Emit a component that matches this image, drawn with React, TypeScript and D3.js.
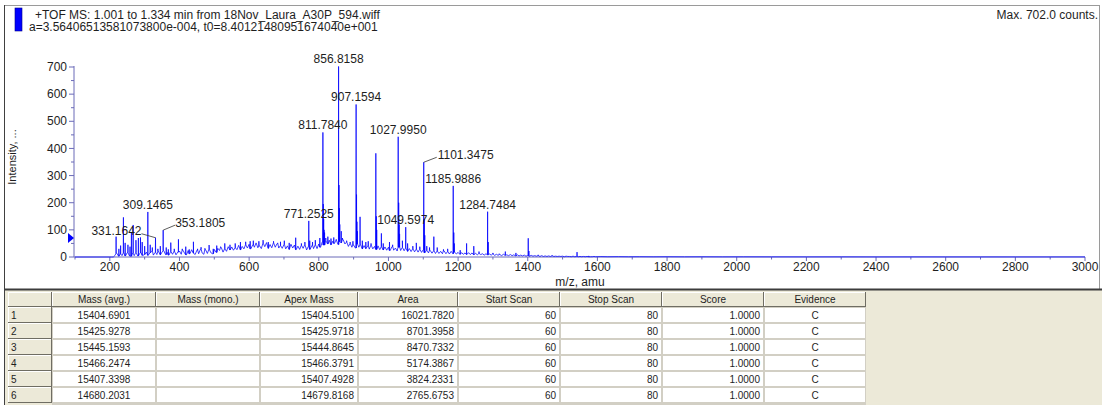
import React from "react";
import * as d3 from "d3";

// ---------- header texts ----------
const headerLine1 = "+TOF MS: 1.001 to 1.334 min from 18Nov_Laura_A30P_594.wiff";
const headerLine2 = "a=3.56406513581073800e-004, t0=8.40121480951674040e+001";
const maxCountsText = "Max. 702.0 counts.";
const xAxisTitle = "m/z, amu";
const yAxisTitle = "Intensity, ...";

// ---------- axes ----------
const xDomain = [100, 3000];
const yDomain = [0, 702];
const xMajorTicks = [200, 400, 600, 800, 1000, 1200, 1400, 1600, 1800, 2000, 2200, 2400, 2600, 2800, 3000];
const xMinorTicks = [100, 300, 500, 700, 900, 1100, 1300, 1500, 1700, 1900, 2100, 2300, 2500, 2700, 2900];
const yMajorTicks = [0, 100, 200, 300, 400, 500, 600, 700];
const yMinorTicks = [50, 150, 250, 350, 450, 550, 650];

// ---------- spectrum: profile trace sampled every 5 amu from 200 ----------
const profileStart = 200;
const profileStep = 5;
const profileIntensity = [
  // 200 - 295
  0, 0, 0, 6, 14, 3, 11, 5, 15, 4, 16, 7, 3, 13, 5, 17, 4, 12, 15, 6,
  // 300 - 395
  9, 18, 6, 15, 21, 7, 17, 9, 20, 8, 18, 23, 9, 17, 7, 20, 10, 22, 8, 18,
  // 400 - 495
  22, 10, 25, 13, 8, 24, 12, 27, 14, 9, 25, 12, 28, 15, 10, 27, 13, 29, 16, 12,
  // 500 - 595
  28, 17, 32, 24, 35, 18, 30, 21, 38, 26, 37, 25, 34, 27, 43, 26, 39, 30, 45, 33,
  // 600 - 695
  47, 30, 44, 36, 52, 34, 41, 31, 51, 38, 53, 32, 46, 34, 52, 36, 49, 33, 42, 32,
  // 700 - 795
  46, 30, 41, 28, 47, 33, 44, 27, 40, 28, 43, 32, 45, 26, 39, 28, 42, 31, 45, 31,
  // 800 - 895
  48, 36, 56, 44, 60, 48, 62, 45, 58, 50, 63, 46, 57, 52, 64, 48, 55, 39, 50, 36,
  // 900 - 995
  44, 33, 48, 36, 45, 30, 42, 31, 40, 29, 44, 30, 39, 28, 41, 27, 38, 26, 37, 25,
  // 1000 - 1095
  36, 24, 38, 25, 33, 22, 36, 24, 35, 23, 33, 21, 31, 20, 30, 19, 29, 18, 28, 17,
  // 1100 - 1195
  27, 16, 25, 15, 24, 14, 23, 13, 22, 13, 21, 12, 22, 12, 20, 11, 21, 12, 18, 11,
  // 1200 - 1295
  17, 10, 16, 10, 15, 9, 16, 9, 15, 8, 14, 8, 13, 9, 12, 7, 12, 8, 11, 7,
  // 1300 - 1395
  11, 6, 10, 6, 9, 5, 10, 6, 8, 5, 9, 5, 8, 4, 8, 4, 7, 4, 7, 3,
  // 1400 - 1495
  6, 3, 6, 3, 5, 3, 5, 2, 5, 2, 4, 2, 4, 2, 4, 2, 3, 2, 3, 2,
  // 1500 - 1595
  3, 1, 3, 2, 2, 1, 3, 1, 2, 1, 2, 1, 2, 1, 2, 1, 1, 1, 2, 1,
];
const tailMz = [1610, 1630, 1660, 1690, 1720, 1760, 1800, 1850, 1900, 1960, 2020, 2100, 2200, 2300, 2400, 2500, 2600, 2700, 2800, 2900, 3000];
const tailIntensity = [1.5, 1, 1.3, 0.9, 1.1, 0.8, 1, 0.7, 0.9, 0.6, 0.8, 0.6, 0.5, 0.6, 0.4, 0.5, 0.4, 0.4, 0.3, 0.3, 0.3];

// centroided peaks (m/z, counts)
const peakMz = [
  218, 226, 231, 239, 244, 252, 258, 262, 267, 275, 282, 288, 293, 300, 309.1465, 316, 322, 331.1642, 338, 345,
  353.1805, 362, 368, 375, 385, 397, 408, 418, 428, 440, 452, 462, 473, 485, 497, 507, 518, 530, 545, 560,
  575, 590, 603, 612, 628, 640, 655, 670, 682, 690, 701, 715, 733.7, 750, 760, 771.2525, 774, 782, 790, 803,
  811.784, 812.9, 814.0, 815.1, 816.6, 820, 826, 835, 843, 850, 856.8158, 858.0, 859.1, 860.3, 864.5, 868, 880, 890, 898,
  907.1594, 908.4, 909.5, 910.8, 918.5, 925, 935, 942, 950, 963.78, 965.1, 966.3, 979.7, 985, 1003, 1012,
  1027.995, 1029.4, 1030.8, 1032, 1040, 1049.5974, 1055, 1070, 1080, 1090, 1101.3475, 1102.85, 1104.3, 1110, 1118,
  1130.3, 1140, 1158, 1170, 1185.9886, 1187.6, 1189, 1206, 1224.4, 1245, 1260, 1284.7484, 1286.5, 1300, 1318,
  1335.6, 1366, 1401.4, 1403.3, 1430, 1470, 1541.5, 1575,
];
const peakIntensity = [
  75, 30, 42, 146, 52, 45, 38, 90, 118, 62, 70, 72, 55, 40, 166, 45, 35, 71, 30, 40,
  99, 35, 28, 53, 30, 65, 30, 38, 28, 56, 30, 36, 32, 44, 30, 42, 38, 50, 45, 50,
  55, 56, 58, 60, 58, 62, 55, 58, 52, 56, 60, 52, 71, 50, 55, 133, 60, 55, 62, 70,
  459, 195, 140, 100, 90, 70, 75, 68, 72, 65, 702, 265, 180, 120, 95, 70, 60, 55, 58,
  562, 230, 130, 95, 148, 60, 55, 58, 50, 382, 150, 100, 87, 50, 55, 45,
  443, 200, 120, 85, 60, 110, 50, 40, 52, 38, 349, 140, 80, 40, 35,
  75, 35, 28, 30, 262, 90, 50, 25, 50, 40, 20, 167, 55, 15, 12,
  20, 15, 69, 22, 8, 6, 18, 4,
];

// annotated peaks
const labelMz = [856.8158, 907.1594, 811.784, 1027.995, 1101.3475, 1185.9886, 1284.7484, 771.2525, 1049.5974, 309.1465, 331.1642, 353.1805];
const labelText = ["856.8158", "907.1594", "811.7840", "1027.9950", "1101.3475", "1185.9886", "1284.7484", "771.2525", "1049.5974", "309.1465", "331.1642", "353.1805"];

// ---------- results table ----------
const tableColumns = ["Mass (avg.)", "Mass (mono.)", "Apex Mass", "Area", "Start Scan", "Stop Scan", "Score", "Evidence"];
const rowIds = ["1", "2", "3", "4", "5", "6"];
const massAvg = ["15404.6901", "15425.9278", "15445.1593", "15466.2474", "15407.3398", "14680.2031"];
const massMono = ["", "", "", "", "", ""];
const apexMass = ["15404.5100", "15425.9718", "15444.8645", "15466.3791", "15407.4928", "14679.8168"];
const areaValues = ["16021.7820", "8701.3958", "8470.7332", "5174.3867", "3824.2331", "2765.6753"];
const startScan = ["60", "60", "60", "60", "60", "60"];
const stopScan = ["80", "80", "80", "80", "80", "80"];
const scoreValues = ["1.0000", "1.0000", "1.0000", "1.0000", "1.0000", "1.0000"];
const evidence = ["C", "C", "C", "C", "C", "C"];

// ---------- layout ----------
const W = 1102;
const H = 405;
const FONT = "Liberation Sans, Arial, Helvetica, sans-serif";
const plot = { left: 75, right: 1085, top: 66, bottom: 257 };
const axisColor = "#6a6ab8";
const textColor = "#1e1e1e";
const beige = "#ECE9D8";
const txt = { fontFamily: FONT };

// label offsets for callouts drawn with a leader line
const callouts: Record<string, { dx: number; dy: number; anchor: string; lx: number; ly: number }> = {
  "1101.3475": { dx: 14, dy: -3, anchor: "start", lx: 13, ly: -5 },
  "331.1642": { dx: -14, dy: -3, anchor: "end", lx: -14, ly: -4 },
  "353.1805": { dx: 12, dy: -3, anchor: "start", lx: 12, ly: -5 },
};

const table = { top: 292, headerH: 15, rowH: 16 };
// column edges: row-number column, then one per data column
const colEdges = [8, 52, 156, 260, 358, 458, 560, 662, 764, 866];
const colAlign = ["middle", "middle", "end", "end", "end", "end", "end", "middle"];

export default function App() {
  const x = d3.scaleLinear().domain(xDomain).range([plot.left, plot.right]);
  const y = d3.scaleLinear().domain(yDomain).range([plot.bottom, plot.bottom - 702 * (191 / 703.7)]);

  // profile trace with the centroided sticks merged in
  const base: [number, number][] = [[100, 0]];
  profileIntensity.forEach((v, i) => base.push([profileStart + i * profileStep, v]));
  tailMz.forEach((m, i) => base.push([m, tailIntensity[i]]));
  const nearestBase = (m: number) => {
    let best = base[0];
    for (const p of base) if (Math.abs(p[0] - m) < Math.abs(best[0] - m)) best = p;
    return best[1];
  };
  const pts: [number, number][] = [...base];
  peakMz.forEach((m, i) => {
    const b = nearestBase(m);
    pts.push([m - 0.4, b], [m, peakIntensity[i]], [m + 0.4, b]);
  });
  pts.sort((a, b) => a[0] - b[0]);
  const line = d3
    .line<[number, number]>()
    .x((d) => x(d[0]))
    .y((d) => y(d[1]));
  const pathD = line(pts) || "";

  const intensityAt = (m: number) => peakIntensity[peakMz.indexOf(m)];

  const columnsData = [massAvg, massMono, apexMass, areaValues, startScan, stopScan, scoreValues, evidence];
  const tableRight = colEdges[colEdges.length - 1];

  const bevel = (x0: number, y0: number, x1: number, y1: number, key: string) => (
    <g key={key}>
      <rect x={x0} y={y0} width={x1 - x0} height={y1 - y0} fill={beige} />
      <line x1={x0 + 0.5} x2={x0 + 0.5} y1={y0} y2={y1} stroke="#fff" />
      <line x1={x0} x2={x1} y1={y0 + 0.5} y2={y0 + 0.5} stroke="#fff" />
      <line x1={x1 - 0.5} x2={x1 - 0.5} y1={y0} y2={y1} stroke="#6f6d63" />
      <line x1={x0} x2={x1} y1={y1 - 0.5} y2={y1 - 0.5} stroke="#6f6d63" />
    </g>
  );

  return (
    <svg
      width={W}
      height={H}
      style={{ position: "absolute", left: 0, top: 0, background: "#fff", fontFamily: FONT }}
    >
      {/* chart frame */}
      <rect x={4.5} y={5.5} width={1095} height={284} fill="#fff" stroke="#9a9a9a" />
      <line x1={4.5} y1={5} x2={4.5} y2={H} stroke="#404040" />

      {/* header */}
      <rect x={15} y={8} width={7} height={23} fill="#0000ff" stroke="#00008a" strokeWidth={0.6} />
      <text x={35} y={19} fontSize={12} fill={textColor} style={txt}>
        {headerLine1}
      </text>
      <text x={29} y={31} fontSize={12} fill={textColor} style={txt}>
        {headerLine2}
      </text>
      <text x={1098} y={19} fontSize={12} fill={textColor} textAnchor="end" style={txt}>
        {maxCountsText}
      </text>

      {/* y axis */}
      <line x1={plot.left - 1} x2={plot.left - 1} y1={y(700) - 1} y2={plot.bottom} stroke={axisColor} />
      {yMajorTicks.map((t) => (
        <g key={"ym" + t}>
          <line x1={plot.left - 6} x2={plot.left - 1} y1={y(t)} y2={y(t)} stroke={axisColor} />
          <text x={plot.left - 8} y={y(t)} dy="0.35em" fontSize={12} fill={textColor} textAnchor="end" style={txt}>
            {t}
          </text>
        </g>
      ))}
      {yMinorTicks.map((t) => (
        <line key={"yn" + t} x1={plot.left - 4} x2={plot.left - 1} y1={y(t)} y2={y(t)} stroke={axisColor} />
      ))}
      <text transform="translate(16,157) rotate(-90)" fontSize={11} fill={textColor} textAnchor="middle" style={txt}>
        {yAxisTitle}
      </text>
      <path d={`M${plot.left - 7},${y(70) - 5}L${plot.left - 1},${y(70)}L${plot.left - 7},${y(70) + 5}Z`} fill="#0000ff" />

      {/* x axis */}
      <line x1={plot.left - 1} x2={plot.right} y1={plot.bottom} y2={plot.bottom} stroke={axisColor} />
      {xMajorTicks.map((t) => (
        <g key={"xm" + t}>
          <line x1={x(t)} x2={x(t)} y1={plot.bottom} y2={plot.bottom + 4} stroke={axisColor} />
          <text x={x(t)} y={271} fontSize={12} fill={textColor} textAnchor="middle" style={txt}>
            {t}
          </text>
        </g>
      ))}
      {xMinorTicks.map((t) => (
        <line key={"xn" + t} x1={x(t)} x2={x(t)} y1={plot.bottom} y2={plot.bottom + 2.5} stroke={axisColor} />
      ))}
      <text x={(plot.left + plot.right) / 2} y={286} fontSize={12} fill={textColor} textAnchor="middle" style={txt}>
        {xAxisTitle}
      </text>

      {/* spectrum */}
      <path d={pathD} fill="none" stroke="#0000ff" strokeWidth={0.75} strokeLinejoin="round" />

      {/* peak annotations */}
      {labelMz.map((m, i) => {
        const px = x(m);
        const py = y(intensityAt(m));
        const c = callouts[labelText[i]];
        if (c) {
          return (
            <g key={"lab" + i}>
              <line x1={px} y1={py} x2={px + c.lx} y2={py + c.ly} stroke="#333" strokeWidth={0.8} />
              <text x={px + c.dx} y={py + c.dy} fontSize={12} fill={textColor} textAnchor={c.anchor} style={txt}>
                {labelText[i]}
              </text>
            </g>
          );
        }
        return (
          <text key={"lab" + i} x={px} y={py - 3} fontSize={12} fill={textColor} textAnchor="middle" style={txt}>
            {labelText[i]}
          </text>
        );
      })}

      {/* separator and table panel */}
      <rect x={5} y={290} width={W - 5} height={H - 290} fill={beige} />
      <line x1={4} x2={W} y1={289.5} y2={289.5} stroke="#3c3c3c" strokeWidth={2} />
      <line x1={4.5} y1={289} x2={4.5} y2={H} stroke="#404040" />

      {/* grid background behind the data cells */}
      <rect
        x={colEdges[1]}
        y={table.top + table.headerH}
        width={tableRight - colEdges[1]}
        height={H - table.top - table.headerH}
        fill="#d2cfc4"
      />

      {/* header row */}
      {bevel(colEdges[0], table.top, colEdges[1], table.top + table.headerH, "hidx")}
      {tableColumns.map((name, k) => {
        const x0 = colEdges[k + 1];
        const x1 = colEdges[k + 2];
        return (
          <g key={"h" + k}>
            {bevel(x0, table.top, x1, table.top + table.headerH, "hb" + k)}
            <text x={(x0 + x1) / 2} y={table.top + 11} fontSize={10} fill={textColor} textAnchor="middle" style={txt}>
              {name}
            </text>
          </g>
        );
      })}

      {/* data rows */}
      {rowIds.map((id, r) => {
        const y0 = table.top + table.headerH + r * table.rowH;
        const y1 = y0 + table.rowH;
        return (
          <g key={"r" + r}>
            {bevel(colEdges[0], y0, colEdges[1], y1, "ri" + r)}
            <text x={colEdges[0] + 3} y={y0 + 12} fontSize={10} fill={textColor} style={txt}>
              {id}
            </text>
            {columnsData.map((col, k) => {
              const x0 = colEdges[k + 1];
              const x1 = colEdges[k + 2];
              const a = colAlign[k];
              const tx = a === "middle" ? (x0 + x1) / 2 : x1 - 4;
              return (
                <g key={"c" + k}>
                  <rect x={x0 + 1} y={y0 + 1} width={x1 - x0 - 2} height={table.rowH - 2} fill="#fff" />
                  <text x={tx} y={y0 + 12} fontSize={10} fill={textColor} textAnchor={a} style={txt}>
                    {col[r]}
                  </text>
                </g>
              );
            })}
          </g>
        );
      })}
    </svg>
  );
}
